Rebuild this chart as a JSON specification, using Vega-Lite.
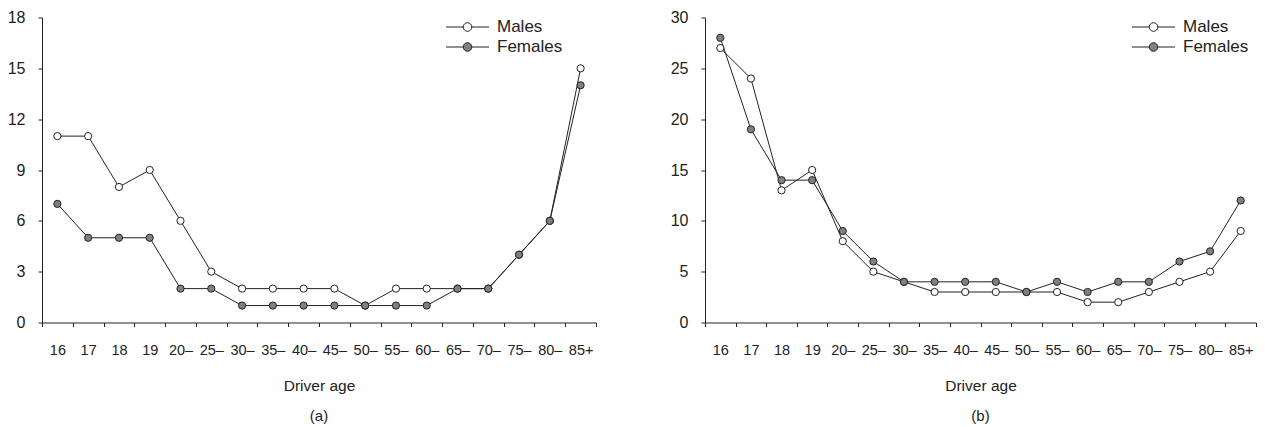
{
  "$schema": "https://vega.github.io/schema/vega-lite/v6.json",
  "background": "white",
  "padding": {"left": 7, "top": 9.5, "right": 5, "bottom": 2},
  "config": {
    "view": {"stroke": null},
    "axis": {
      "labelFont": "Liberation Sans",
      "labelFontSize": 16,
      "labelColor": "#222",
      "titleFont": "Liberation Sans",
      "titleFontSize": 15.5,
      "titleFontWeight": "normal",
      "titleColor": "#222",
      "domainColor": "#222",
      "tickColor": "#222",
      "grid": false
    },
    "legend": {
      "labelFont": "Liberation Sans",
      "labelFontSize": 17,
      "labelColor": "#222"
    },
    "title": {
      "font": "Liberation Sans",
      "fontSize": 15,
      "fontWeight": "normal",
      "color": "#222"
    }
  },
  "datasets": {
    "d": [
      {"panel": "a", "sex": "Males", "age": "16", "value": 11},
      {"panel": "a", "sex": "Males", "age": "17", "value": 11},
      {"panel": "a", "sex": "Males", "age": "18", "value": 8},
      {"panel": "a", "sex": "Males", "age": "19", "value": 9},
      {"panel": "a", "sex": "Males", "age": "20–", "value": 6},
      {"panel": "a", "sex": "Males", "age": "25–", "value": 3},
      {"panel": "a", "sex": "Males", "age": "30–", "value": 2},
      {"panel": "a", "sex": "Males", "age": "35–", "value": 2},
      {"panel": "a", "sex": "Males", "age": "40–", "value": 2},
      {"panel": "a", "sex": "Males", "age": "45–", "value": 2},
      {"panel": "a", "sex": "Males", "age": "50–", "value": 1},
      {"panel": "a", "sex": "Males", "age": "55–", "value": 2},
      {"panel": "a", "sex": "Males", "age": "60–", "value": 2},
      {"panel": "a", "sex": "Males", "age": "65–", "value": 2},
      {"panel": "a", "sex": "Males", "age": "70–", "value": 2},
      {"panel": "a", "sex": "Males", "age": "75–", "value": 4},
      {"panel": "a", "sex": "Males", "age": "80–", "value": 6},
      {"panel": "a", "sex": "Males", "age": "85+", "value": 15},
      {"panel": "a", "sex": "Females", "age": "16", "value": 7},
      {"panel": "a", "sex": "Females", "age": "17", "value": 5},
      {"panel": "a", "sex": "Females", "age": "18", "value": 5},
      {"panel": "a", "sex": "Females", "age": "19", "value": 5},
      {"panel": "a", "sex": "Females", "age": "20–", "value": 2},
      {"panel": "a", "sex": "Females", "age": "25–", "value": 2},
      {"panel": "a", "sex": "Females", "age": "30–", "value": 1},
      {"panel": "a", "sex": "Females", "age": "35–", "value": 1},
      {"panel": "a", "sex": "Females", "age": "40–", "value": 1},
      {"panel": "a", "sex": "Females", "age": "45–", "value": 1},
      {"panel": "a", "sex": "Females", "age": "50–", "value": 1},
      {"panel": "a", "sex": "Females", "age": "55–", "value": 1},
      {"panel": "a", "sex": "Females", "age": "60–", "value": 1},
      {"panel": "a", "sex": "Females", "age": "65–", "value": 2},
      {"panel": "a", "sex": "Females", "age": "70–", "value": 2},
      {"panel": "a", "sex": "Females", "age": "75–", "value": 4},
      {"panel": "a", "sex": "Females", "age": "80–", "value": 6},
      {"panel": "a", "sex": "Females", "age": "85+", "value": 14},
      {"panel": "b", "sex": "Males", "age": "16", "value": 27},
      {"panel": "b", "sex": "Males", "age": "17", "value": 24},
      {"panel": "b", "sex": "Males", "age": "18", "value": 13},
      {"panel": "b", "sex": "Males", "age": "19", "value": 15},
      {"panel": "b", "sex": "Males", "age": "20–", "value": 8},
      {"panel": "b", "sex": "Males", "age": "25–", "value": 5},
      {"panel": "b", "sex": "Males", "age": "30–", "value": 4},
      {"panel": "b", "sex": "Males", "age": "35–", "value": 3},
      {"panel": "b", "sex": "Males", "age": "40–", "value": 3},
      {"panel": "b", "sex": "Males", "age": "45–", "value": 3},
      {"panel": "b", "sex": "Males", "age": "50–", "value": 3},
      {"panel": "b", "sex": "Males", "age": "55–", "value": 3},
      {"panel": "b", "sex": "Males", "age": "60–", "value": 2},
      {"panel": "b", "sex": "Males", "age": "65–", "value": 2},
      {"panel": "b", "sex": "Males", "age": "70–", "value": 3},
      {"panel": "b", "sex": "Males", "age": "75–", "value": 4},
      {"panel": "b", "sex": "Males", "age": "80–", "value": 5},
      {"panel": "b", "sex": "Males", "age": "85+", "value": 9},
      {"panel": "b", "sex": "Females", "age": "16", "value": 28},
      {"panel": "b", "sex": "Females", "age": "17", "value": 19},
      {"panel": "b", "sex": "Females", "age": "18", "value": 14},
      {"panel": "b", "sex": "Females", "age": "19", "value": 14},
      {"panel": "b", "sex": "Females", "age": "20–", "value": 9},
      {"panel": "b", "sex": "Females", "age": "25–", "value": 6},
      {"panel": "b", "sex": "Females", "age": "30–", "value": 4},
      {"panel": "b", "sex": "Females", "age": "35–", "value": 4},
      {"panel": "b", "sex": "Females", "age": "40–", "value": 4},
      {"panel": "b", "sex": "Females", "age": "45–", "value": 4},
      {"panel": "b", "sex": "Females", "age": "50–", "value": 3},
      {"panel": "b", "sex": "Females", "age": "55–", "value": 4},
      {"panel": "b", "sex": "Females", "age": "60–", "value": 3},
      {"panel": "b", "sex": "Females", "age": "65–", "value": 4},
      {"panel": "b", "sex": "Females", "age": "70–", "value": 4},
      {"panel": "b", "sex": "Females", "age": "75–", "value": 6},
      {"panel": "b", "sex": "Females", "age": "80–", "value": 7},
      {"panel": "b", "sex": "Females", "age": "85+", "value": 12}
    ]
  },
  "spacing": 73,
  "resolve": {"scale": {"y": "independent", "fill": "independent"}, "legend": {"fill": "independent"}},
  "hconcat": [
    {
      "width": 554,
      "height": 305,
      "title": {"text": "(a)", "orient": "bottom", "offset": 15},
      "data": {"name": "d"},
      "transform": [{"filter": "datum.panel == 'a'"}],
      "encoding": {
        "x": {
          "field": "age", "type": "ordinal", "sort": null, "bandPosition": 0.5,
          "scale": {"type": "band", "paddingInner": 0, "paddingOuter": 0},
          "axis": {"title": "Driver age", "labelAngle": 0, "labelFontSize": 14.5, "tickBand": "extent", "tickSize": 4, "labelPadding": 17, "titlePadding": 21,
                   "encode": {"ticks": {"update": {"y2": {"value": -4}}}}}
        },
        "y": {
          "field": "value", "type": "quantitative",
          "scale": {"domain": [0, 18], "nice": false, "zero": true},
          "axis": {"title": null, "values": [0, 3, 6, 9, 12, 15, 18], "tickSize": 4, "labelPadding": 13,
                   "encode": {"ticks": {"update": {"x2": {"value": 4}}}}}
        }
      },
      "layer": [
        {"mark": {"type": "line", "color": "#222", "strokeWidth": 1}, "encoding": {"detail": {"field": "sex"}}},
        {
          "mark": {"type": "point", "shape": "circle", "filled": true, "size": 52, "stroke": "#222", "strokeWidth": 1, "opacity": 1},
          "encoding": {
            "fill": {
              "field": "sex", "type": "nominal",
              "scale": {"domain": ["Males", "Females"], "range": ["#ffffff", "#808080"]},
              "legend": {
                "title": null, "orient": "none", "legendX": 414, "legendY": -2,
                "symbolType": "M-2,0H-0.4M0.4,0H2M-0.4,0C-0.4,-0.221,-0.221,-0.4,0,-0.4C0.221,-0.4,0.4,-0.221,0.4,0C0.4,0.221,0.221,0.4,0,0.4C-0.221,0.4,-0.4,0.221,-0.4,0Z",
                "symbolSize": 462, "symbolStrokeColor": "#222", "symbolStrokeWidth": 1, "labelOffset": 18, "rowPadding": 0
              }
            }
          }
        }
      ]
    },
    {
      "width": 551,
      "height": 305,
      "title": {"text": "(b)", "orient": "bottom", "offset": 15},
      "data": {"name": "d"},
      "transform": [{"filter": "datum.panel == 'b'"}],
      "encoding": {
        "x": {
          "field": "age", "type": "ordinal", "sort": null, "bandPosition": 0.5,
          "scale": {"type": "band", "paddingInner": 0, "paddingOuter": 0},
          "axis": {"title": "Driver age", "labelAngle": 0, "labelFontSize": 14.5, "tickBand": "extent", "tickSize": 4, "labelPadding": 17, "titlePadding": 21,
                   "encode": {"ticks": {"update": {"y2": {"value": -4}}}}}
        },
        "y": {
          "field": "value", "type": "quantitative",
          "scale": {"domain": [0, 30], "nice": false, "zero": true},
          "axis": {"title": null, "values": [0, 5, 10, 15, 20, 25, 30], "tickSize": 4, "labelPadding": 13,
                   "encode": {"ticks": {"update": {"x2": {"value": 4}}}}}
        }
      },
      "layer": [
        {"mark": {"type": "line", "color": "#222", "strokeWidth": 1}, "encoding": {"detail": {"field": "sex"}}},
        {
          "mark": {"type": "point", "shape": "circle", "filled": true, "size": 52, "stroke": "#222", "strokeWidth": 1, "opacity": 1},
          "encoding": {
            "fill": {
              "field": "sex", "type": "nominal",
              "scale": {"domain": ["Males", "Females"], "range": ["#ffffff", "#808080"]},
              "legend": {
                "title": null, "orient": "none", "legendX": 437, "legendY": -2,
                "symbolType": "M-2,0H-0.4M0.4,0H2M-0.4,0C-0.4,-0.221,-0.221,-0.4,0,-0.4C0.221,-0.4,0.4,-0.221,0.4,0C0.4,0.221,0.221,0.4,0,0.4C-0.221,0.4,-0.4,0.221,-0.4,0Z",
                "symbolSize": 462, "symbolStrokeColor": "#222", "symbolStrokeWidth": 1, "labelOffset": 18, "rowPadding": 0
              }
            }
          }
        }
      ]
    }
  ]
}
